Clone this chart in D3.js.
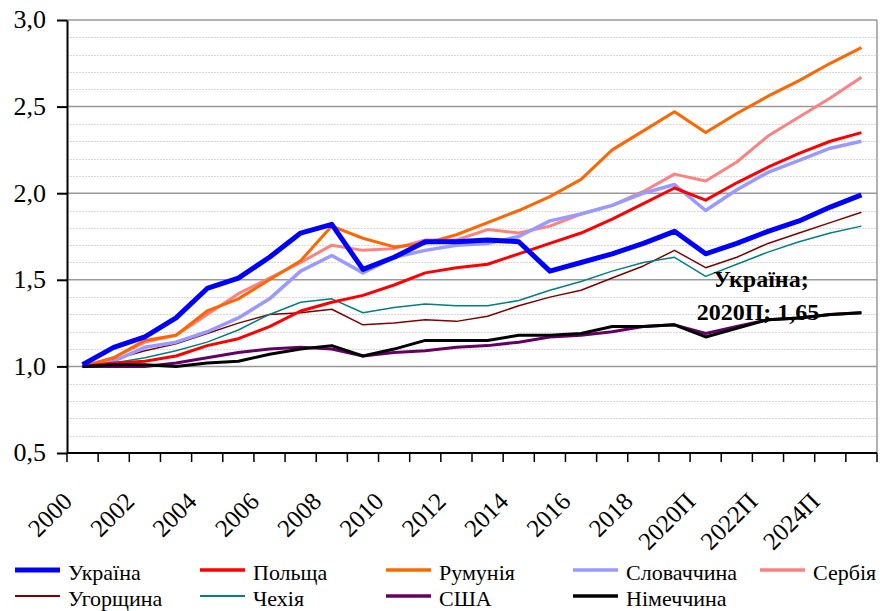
<!DOCTYPE html>
<meta charset="UTF-8">
<body>
<script src="https://cdnjs.cloudflare.com/ajax/libs/d3/7.8.5/d3.min.js"></script>
<script>
// categories on the x axis
const years = ["2000","2001","2002","2003","2004","2005","2006","2007","2008","2009",
  "2010","2011","2012","2013","2014","2015","2016","2017","2018","2019",
  "2020П","2021П","2022П","2023П","2024П","2025П"];

// series values (index 2000 = 1,0)
const ukraine  = [1.01,1.11,1.17,1.28,1.45,1.51,1.63,1.77,1.82,1.56,1.63,1.72,1.72,1.73,1.72,1.55,1.60,1.65,1.71,1.78,1.65,1.71,1.78,1.84,1.92,1.99];
const poland   = [1.00,1.02,1.03,1.06,1.12,1.16,1.23,1.32,1.37,1.41,1.47,1.54,1.57,1.59,1.65,1.71,1.77,1.85,1.94,2.03,1.96,2.06,2.15,2.23,2.30,2.35];
const romania  = [1.00,1.05,1.15,1.18,1.32,1.39,1.50,1.61,1.81,1.74,1.69,1.71,1.76,1.83,1.90,1.98,2.08,2.25,2.36,2.47,2.35,2.46,2.56,2.65,2.75,2.84];
const slovakia = [1.00,1.03,1.11,1.14,1.20,1.28,1.39,1.55,1.64,1.54,1.63,1.67,1.70,1.71,1.75,1.84,1.88,1.93,2.00,2.05,1.90,2.02,2.12,2.19,2.26,2.30];
const serbia   = [1.00,1.05,1.14,1.18,1.30,1.42,1.51,1.60,1.70,1.67,1.68,1.73,1.73,1.79,1.77,1.81,1.88,1.93,2.01,2.11,2.07,2.18,2.33,2.44,2.55,2.67];
const hungary  = [1.00,1.04,1.09,1.13,1.19,1.25,1.30,1.31,1.33,1.24,1.25,1.27,1.26,1.29,1.35,1.40,1.44,1.51,1.58,1.67,1.57,1.63,1.71,1.77,1.83,1.89];
const czechia  = [1.00,1.02,1.05,1.09,1.14,1.21,1.30,1.37,1.39,1.31,1.34,1.36,1.35,1.35,1.38,1.44,1.49,1.55,1.60,1.63,1.52,1.59,1.66,1.72,1.77,1.81];
const usa      = [1.00,1.00,1.00,1.02,1.05,1.08,1.10,1.11,1.10,1.06,1.08,1.09,1.11,1.12,1.14,1.17,1.18,1.20,1.23,1.24,1.19,1.23,1.27,1.28,1.30,1.31];
const germany  = [1.00,1.01,1.01,1.00,1.02,1.03,1.07,1.10,1.12,1.06,1.10,1.15,1.15,1.15,1.18,1.18,1.19,1.23,1.23,1.24,1.17,1.22,1.27,1.28,1.30,1.31];

const seriesNames = ["Україна","Польща","Румунія","Словаччина","Сербія","Угорщина","Чехія","США","Німеччина"];
const seriesValues = [ukraine, poland, romania, slovakia, serbia, hungary, czechia, usa, germany];
const seriesColors = ["#0000ff","#ff0000","#ff6600","#9999ff","#ff8080","#800000","#008080","#660066","#000000"];
const seriesWidths = [5, 3, 3, 3.5, 3, 1.5, 1.5, 3, 3];

const yTicks = [0.5, 1.0, 1.5, 2.0, 2.5, 3.0];

const width = 880, height = 611;
const margin = {top: 20, right: 3, bottom: 158, left: 67};

const svg = d3.select("body").append("svg")
    .attr("width", width)
    .attr("height", height)
    .attr("font-family", "Liberation Serif")
    .style("font-family", '"Liberation Serif"')
    .style("display", "block")
    .style("position", "absolute")
    .style("left", "0px").style("top", "0px");

const x = d3.scaleBand()
    .domain(years)
    .range([margin.left, width - margin.right]);

const y = d3.scaleLinear()
    .domain([0.5, 3.0])
    .range([height - margin.bottom, margin.top]);

// minor gridlines every 0.1
const minor = d3.range(0.6, 3.0, 0.1).filter(v => Math.abs(v * 2 - Math.round(v * 2)) > 0.01);
svg.append("g").selectAll("line")
    .data(minor)
  .enter().append("line")
    .attr("stroke", "#d9d9d9").attr("stroke-dasharray", "2,1")
    .attr("x1", margin.left).attr("x2", width - margin.right)
    .attr("y1", d => Math.round(y(d)) + 0.5).attr("y2", d => Math.round(y(d)) + 0.5);

// major gridlines
svg.append("g").selectAll("line")
    .data(yTicks.slice(1))
  .enter().append("line")
    .attr("stroke", "#999").attr("stroke-width", 1.5)
    .attr("x1", margin.left).attr("x2", width - margin.right)
    .attr("y1", d => y(d)).attr("y2", d => y(d));

// right border
svg.append("line")
    .attr("stroke", "#999").attr("stroke-width", 1.5)
    .attr("x1", width - margin.right).attr("x2", width - margin.right)
    .attr("y1", y(3.0)).attr("y2", y(0.5));

// lines
const line = d3.line()
    .x((d, i) => x(years[i]) + x.bandwidth() / 2)
    .y(d => y(d));

// draw order: thin first, Ukraine on top of colours
const order = [5, 6, 4, 3, 2, 1, 7, 8, 0];
svg.append("g").selectAll("path")
    .data(order)
  .enter().append("path")
    .attr("fill", "none")
    .attr("stroke-linejoin", "round")
    .attr("stroke", i => seriesColors[i])
    .attr("stroke-width", i => seriesWidths[i])
    .attr("d", i => line(seriesValues[i]));

// y axis
const yAxis = svg.append("g")
    .attr("transform", `translate(${margin.left},0)`)
    .call(d3.axisLeft(y).tickValues(yTicks).tickSize(10).tickSizeOuter(0)
      .tickFormat(d => d3.format(".1f")(d).replace(".", ",")));
yAxis.attr("font-family", "Liberation Serif").attr("font-size", 26);
yAxis.select(".domain").attr("stroke", "#000").attr("stroke-width", 2);
yAxis.selectAll(".tick line").attr("stroke", "#000").attr("stroke-width", 2);
yAxis.selectAll(".tick text")
    .style("font-family", '"Liberation Serif"')
    .attr("fill", "#000")
    .attr("x", -21)
    .attr("dy", "0.3em");

// x axis with ticks between categories
const xAxis = svg.append("g")
    .attr("transform", `translate(0,${y(0.5)})`);
xAxis.append("line")
    .attr("x1", margin.left).attr("x2", width - margin.right)
    .attr("stroke", "#000").attr("stroke-width", 2);
xAxis.selectAll("line.tk")
    .data(years.concat(["end"]))
  .enter().append("line")
    .attr("class", "tk")
    .attr("x1", (d, i) => i < years.length ? x(d) : x.range()[1])
    .attr("x2", (d, i) => i < years.length ? x(d) : x.range()[1])
    .attr("y1", 0).attr("y2", 9)
    .attr("stroke", "#000").attr("stroke-width", 1.5);

xAxis.selectAll("text")
    .data(years.filter((d, i) => i % 2 === 0))
  .enter().append("text")
    .attr("transform", d => `translate(${x(d) + x.bandwidth() / 2 - 9},${50}) rotate(-45)`)
    .attr("text-anchor", "end")
    .style("font-family", '"Liberation Serif"')
    .attr("font-size", 25)
    .text(d => d);

// data label
const lbl = svg.append("g");
lbl.append("text").attr("x", 761).attr("y", 287).text("Україна;");
lbl.append("text").attr("x", 758).attr("y", 320).text("2020П; 1,65");
lbl.selectAll("text")
    .attr("text-anchor", "middle")
    .style("font-family", '"Liberation Serif"')
    .attr("font-weight", "bold")
    .attr("font-size", 24);

// legend
const legCols = [15, 200, 386, 573, 760];
const legRows = [570, 596];
const legend = svg.append("g").selectAll("g")
    .data(seriesNames)
  .enter().append("g")
    .attr("transform", (d, i) => `translate(${legCols[i % 5]},${legRows[Math.floor(i / 5)]})`);
legend.append("line")
    .attr("x1", 0).attr("x2", 45)
    .attr("stroke", (d, i) => seriesColors[i])
    .attr("stroke-width", (d, i) => i === 0 ? 5 : (seriesWidths[i] < 2 ? 2 : 3.5));
legend.append("text")
    .attr("x", 53).attr("y", 10)
    .style("font-family", '"Liberation Serif"')
    .attr("font-size", 22)
    .text(d => d);
</script>
</body>
